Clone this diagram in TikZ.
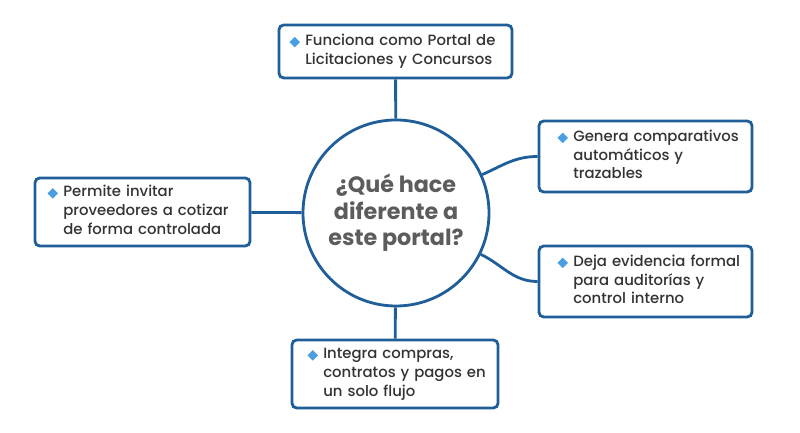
\documentclass[tikz,border=0pt]{standalone}
\usepackage{fontspec}
\setmainfont{Poppins}
\newfontfamily\medio{Poppins}[UprightFont={* Medium}]
\definecolor{azul}{HTML}{1F5E99}
\definecolor{celeste}{HTML}{4A9FE3}
\definecolor{texto}{HTML}{333333}
\definecolor{gris}{HTML}{5C5C5C}
% #1 = sangria en px, #2 = lineas
\newcommand\punto[2][11]{\hspace*{#1\dimexpr0.03cm\relax}%
  \tikz[baseline=-0.45ex]\fill[celeste,sharp corners] (0pt,-4.5pt)--(4.5pt,0pt)--(0pt,4.5pt)--(-4.5pt,0pt)--cycle;\hspace{4.5pt}%
  \begin{tabular}[t]{@{}l@{}}#2\end{tabular}}

\begin{document}
\begin{tikzpicture}[x=0.03cm,y=0.03cm,
  caja/.style={draw=azul,line width=2.4pt,rounded corners=4pt,fill=white,
    inner xsep=0pt,inner ysep=0pt,align=left,text=texto,
    font=\medio\fontsize{12.7}{16}\selectfont},
  centro/.style={circle,draw=azul,line width=2.4pt,minimum size=5.58cm,
    align=center,text=gris,font=\fontsize{19}{22.5}\selectfont\bfseries},
  linea/.style={draw=azul,line width=2.4pt}]
  \useasboundingbox (0,0) rectangle (800,433);
  \renewcommand\arraystretch{1.0}
  % centro
  \node[centro] (c) at (396,220) {¿Qué hace\\diferente a\\este portal?};
  % cajas
  \node[caja,minimum width=233*0.03cm,minimum height=53*0.03cm,text width=6.9cm] (portal) at (395.5,381.5)
    {\punto[9]{Funciona como Portal de\\Licitaciones y Concursos}};
  \node[caja,minimum width=213*0.03cm,minimum height=71*0.03cm,text width=6.3cm] (comp) at (645.5,276.5)
    {\punto[17]{Genera comparativos\\automáticos y\\trazables}};
  \node[caja,minimum width=213*0.03cm,minimum height=71*0.03cm,text width=6.3cm] (evid) at (645.5,151.5)
    {\punto[17]{Deja evidencia formal\\para auditorías y\\control interno}};
  \node[caja,minimum width=215*0.03cm,minimum height=68*0.03cm,text width=6.36cm] (prov) at (142.5,221)
    {\punto[11]{Permite invitar\\proveedores a cotizar\\de forma controlada}};
  \node[caja,minimum width=206*0.03cm,minimum height=68*0.03cm,text width=6.09cm] (flujo) at (395,59)
    {\punto[14]{Integra compras,\\contratos y pagos en\\un solo flujo}};
  % conectores
  \draw[linea] (c) -- (portal);
  \draw[linea] (c) -- (prov);
  \draw[linea] (c) -- (flujo);
  \draw[linea] (c.24) to[out=24,in=180] (comp.west);
  \draw[linea] (c.-26) to[out=-26,in=180] (evid.west);
\end{tikzpicture}
\end{document}
